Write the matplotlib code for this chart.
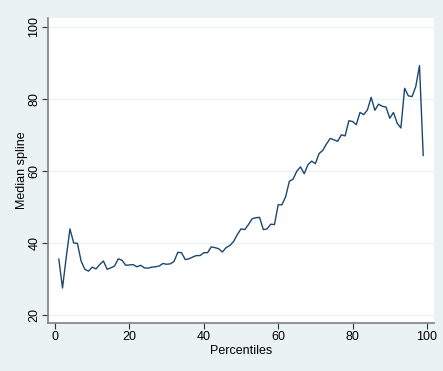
import matplotlib
matplotlib.use("Agg")
import matplotlib.pyplot as plt

percentiles = list(range(1, 100))
median_spline = [
    35.6, 27.5, 36.0, 43.9, 40.0, 39.9, 35.0, 32.7, 32.2, 33.3,
    32.8, 34.0, 35.0, 32.7, 33.1, 33.6, 35.6, 35.2, 33.8, 33.9,
    34.0, 33.4, 33.8, 33.1, 33.0, 33.3, 33.4, 33.6, 34.3, 34.1,
    34.2, 34.9, 37.4, 37.3, 35.4, 35.6, 36.1, 36.5, 36.5, 37.3,
    37.3, 38.9, 38.7, 38.4, 37.5, 38.7, 39.3, 40.4, 42.3, 43.9,
    43.7, 45.1, 46.7, 47.0, 47.1, 43.7, 43.9, 45.2, 45.1, 50.6,
    50.6, 52.8, 57.1, 57.7, 59.9, 61.1, 59.2, 61.7, 62.7, 62.0,
    64.8, 65.7, 67.5, 69.0, 68.6, 68.2, 70.0, 69.7, 73.9, 73.7,
    72.8, 76.2, 75.6, 76.9, 80.4, 76.8, 78.5, 77.9, 77.7, 74.6,
    76.2, 73.2, 71.9, 82.9, 80.8, 80.6, 83.4, 89.2, 64.2,
]
x_ticks = [0, 20, 40, 60, 80, 100]
y_ticks = [20, 40, 60, 80, 100]

plt.rcParams['font.family'] = ['Liberation Sans', 'DejaVu Sans']
bg = '#EAF2F3'
fig = plt.figure(figsize=(4.43, 3.71), dpi=100, facecolor=bg)
ax = fig.add_axes([48/443, 1-323/371, (434-48)/443, (323-18)/371])
ax.set_facecolor('white')
ax.plot(percentiles, median_spline, color='#1a476f', lw=1.0,
        solid_joinstyle='round', solid_capstyle='round')
ax.set_xlim(-1.9, 101.9)
ax.set_ylim(17.8, 102.4)
ax.set_xticks(x_ticks)
ax.set_yticks(y_ticks)
ax.set_yticklabels([str(v) for v in y_ticks], rotation=90, va='center')
ax.grid(axis='y', color=bg, lw=1.0)
ax.set_axisbelow(True)
for s in ['top', 'right']:
    ax.spines[s].set_visible(False)
for s in ['left', 'bottom']:
    ax.spines[s].set_color('#808080')
    ax.spines[s].set_linewidth(1.2)
ax.tick_params(direction='out', length=4, width=0.8, color='#333333', labelsize=9, pad=1.5)
ax.set_xlabel('Percentiles', fontsize=9)
ax.set_ylabel('Median spline', fontsize=9)
ax.xaxis.set_label_coords(0.5, (323 - 344.5) / 305)
ax.yaxis.set_label_coords((28 - 48) / 386, 0.5)
fig.savefig('out.png', dpi=100, facecolor=bg)
